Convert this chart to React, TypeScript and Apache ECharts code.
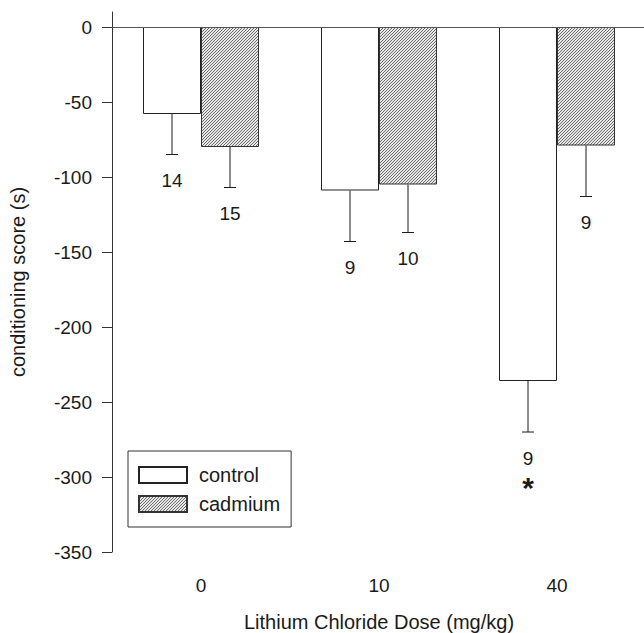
import React, { useEffect, useRef } from "react";
import * as echarts from "echarts";

const categories = ["0", "10", "40"];
const controlMean = [-58, -109, -236];
const controlSem = [27, 34, 34];
const controlN = [14, 9, 9];
const cadmiumMean = [-80, -105, -79];
const cadmiumSem = [27, 32, 34];
const cadmiumN = [15, 10, 9];
const controlSignificance = ["", "", "*"];
const yTicks = [-350, -300, -250, -200, -150, -100, -50, 0];

const FONT = "'Liberation Sans', Arial, Helvetica, sans-serif";
const INK = "#1a1a1a";
const BAR_W = 58;

function makeHatch(): string {
  const c = document.createElement("canvas");
  c.width = 3;
  c.height = 3;
  const ctx = c.getContext("2d")!;
  ctx.fillStyle = "#e6e6e6";
  ctx.fillRect(0, 0, 3, 3);
  ctx.fillStyle = "#6e6e6e";
  ctx.fillRect(2, 0, 1, 1);
  ctx.fillRect(1, 1, 1, 1);
  ctx.fillRect(0, 2, 1, 1);
  return c.toDataURL();
}

function errorSeries(name: string, means: number[], sems: number[], ns: number[], sig: string[], side: number) {
  return {
    type: "custom",
    name: name + "-err",
    silent: true,
    z: 5,
    encode: { x: 0, y: 1 },
    data: categories.map((c, i) => [i, means[i]]),
    renderItem: (params: any, api: any) => {
      const i = params.dataIndex;
      const top = api.coord([i, means[i]]);
      const bot = api.coord([i, means[i] - sems[i]]);
      const x = top[0] + side * (BAR_W / 2);
      const children: any[] = [
        { type: "line", shape: { x1: x, y1: top[1], x2: x, y2: bot[1] }, style: { stroke: INK, lineWidth: 1 } },
        { type: "line", shape: { x1: x - 6, y1: bot[1], x2: x + 6, y2: bot[1] }, style: { stroke: INK, lineWidth: 1 } },
        {
          type: "text",
          x,
          y: bot[1] + 26,
          style: { text: String(ns[i]), fontSize: 19, fontFamily: FONT, fill: INK, align: "center", verticalAlign: "middle" },
        },
      ];
      if (sig[i]) {
        children.push({
          type: "text",
          x,
          y: bot[1] + 55,
          style: { text: sig[i], fontSize: 30, fontWeight: "bold", fontFamily: FONT, fill: INK, align: "center", verticalAlign: "middle" },
        });
      }
      return { type: "group", children };
    },
  };
}

export default function App() {
  const ref = useRef<HTMLDivElement>(null);
  useEffect(() => {
    if (!ref.current) return;
    const chart = echarts.init(ref.current, undefined, { renderer: "svg" });
    const hatch = { image: makeHatch(), repeat: "repeat", imageWidth: 3, imageHeight: 3 };
    chart.setOption({
      animation: false,
      backgroundColor: "#ffffff",
      textStyle: { fontFamily: FONT },
      grid: { left: 112, top: 12, width: 534, bottom: 81, outerBoundsMode: "none", containLabel: false },
      legend: {
        orient: "vertical",
        left: 128,
        top: 451,
        padding: [14, 11, 13, 10],
        itemWidth: 48,
        itemHeight: 16,
        itemGap: 9,
        borderColor: "#333",
        borderWidth: 1,
        icon: "rect",
        data: ["control", "cadmium"],
        textStyle: { fontSize: 20, color: INK, fontFamily: FONT, padding: [0, 0, 0, 7] },
      },
      xAxis: {
        type: "category",
        data: categories,
        name: "Lithium Chloride Dose (mg/kg)",
        nameLocation: "middle",
        nameGap: 60,
        nameTextStyle: { fontSize: 20, color: INK, fontFamily: FONT },
        axisLine: { lineStyle: { color: "#333", width: 1 } },
        axisTick: { alignWithLabel: true, length: 10, lineStyle: { color: "#333" } },
        axisLabel: { fontSize: 19, color: INK, margin: 24, fontFamily: FONT },
      },
      yAxis: {
        type: "value",
        min: -350,
        max: 10,
        interval: 50,
        name: "conditioning score (s)",
        nameLocation: "middle",
        nameRotate: 90,
        nameGap: 84,
        nameTextStyle: { fontSize: 20, color: INK, fontFamily: FONT },
        axisLine: { show: true, lineStyle: { color: "#333", width: 1 } },
        axisTick: { show: true, length: 10, customValues: yTicks, lineStyle: { color: "#333" } },
        axisLabel: { fontSize: 19, color: INK, margin: 20, fontFamily: FONT, customValues: yTicks },
        splitLine: { show: false },
      },
      series: [
        {
          type: "bar",
          name: "control",
          data: controlMean,
          barWidth: BAR_W,
          barGap: "0%",
          itemStyle: { color: "#ffffff", borderColor: "#222", borderWidth: 1 },
          markLine: {
            silent: true,
            symbol: "none",
            label: { show: false },
            lineStyle: { color: "#555", width: 1, type: "solid" },
            data: [{ yAxis: 0 }],
          },
        },
        {
          type: "bar",
          name: "cadmium",
          data: cadmiumMean,
          barWidth: BAR_W,
          barGap: "0%",
          itemStyle: { color: hatch, borderColor: "#333", borderWidth: 1 },
        },
        errorSeries("control", controlMean, controlSem, controlN, controlSignificance, -1),
        errorSeries("cadmium", cadmiumMean, cadmiumSem, cadmiumN, ["", "", ""], 1),
      ],
    });
    return () => chart.dispose();
  }, []);
  return <div ref={ref} style={{ position: "absolute", left: 0, top: 0, width: 644, height: 633 }} />;
}
